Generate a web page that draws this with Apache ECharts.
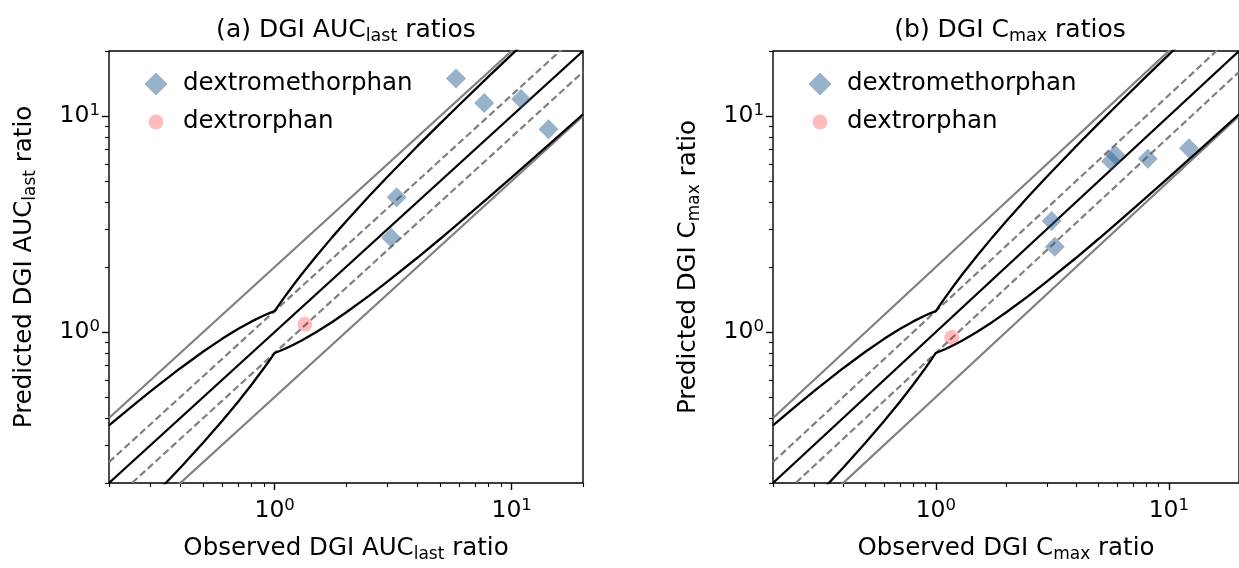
<!DOCTYPE html>
<html>
<head>
<meta charset="utf-8">
<script src="https://cdn.jsdelivr.net/npm/echarts@6/dist/echarts.min.js"></script>
<style>
html,body{margin:0;padding:0;background:#ffffff;}
#chart{width:1239px;height:568px;}
</style>
</head>
<body>
<div id="chart"></div>
<script>
// ---------------- data ----------------
const axisMin = 0.2;
const axisMax = 20;
const majorTicks = [1, 10];
const minorTicks = [0.2, 0.3, 0.4, 0.5, 0.6, 0.7, 0.8, 0.9, 2, 3, 4, 5, 6, 7, 8, 9, 20];

// (a) AUClast ratios
const dmAucObs  = [5.82, 7.66, 10.96, 14.3, 3.27, 3.10];
const dmAucPred = [14.9, 11.5, 12.0, 8.68, 4.21, 2.73];
const dxAucObs  = [1.34];
const dxAucPred = [1.086];

// (b) Cmax ratios
const dmCmaxObs  = [5.88, 5.65, 8.12, 12.2, 3.14, 3.24];
const dmCmaxPred = [6.61, 6.17, 6.34, 7.09, 3.27, 2.48];
const dxCmaxObs  = [1.17];
const dxCmaxPred = [0.944];

// reference lines (unity, 1.25/0.8 and 2/0.5 fold)
const refX     = [0.2, 20];
const unityY   = [0.2, 20];
const up125Y   = [0.25, 25];
const lo080Y   = [0.16, 16];
const up2Y     = [0.4, 40];
const lo05Y    = [0.1, 10];

// Guest et al. limits
const guestX     = [0.2, 0.25, 0.3, 0.4, 0.5, 0.6, 0.7, 0.8, 0.9, 0.95, 1, 1.05, 1.1, 1.2, 1.3, 1.5, 1.75, 2, 2.5, 3, 4, 5, 6, 8, 10, 12, 15, 20];
const guestUpper = [0.37, 0.4531, 0.5325, 0.68, 0.8125, 0.93, 1.0325, 1.12, 1.1925, 1.2231, 1.25, 1.35, 1.45, 1.65, 1.85, 2.25, 2.75, 3.25, 4.25, 5.25, 7.25, 9.25, 11.25, 15.25, 19.25, 23.25, 29.25, 39.25];
const guestLower = [0.1081, 0.1379, 0.1690, 0.2353, 0.3077, 0.3871, 0.4746, 0.5714, 0.6792, 0.7379, 0.8, 0.8167, 0.8345, 0.8727, 0.9135, 1.0, 1.1136, 1.2308, 1.4706, 1.7143, 2.2069, 2.7027, 3.2, 4.1967, 5.1948, 6.1935, 7.6923, 10.1911];

const seriesNames = ['dextromethorphan', 'dextrorphan'];
const titleA  = ['(a) DGI AUC', 'last', ' ratios'];
const titleB  = ['(b) DGI C', 'max', ' ratios'];
const xLabelA = ['Observed DGI AUC', 'last', ' ratio'];
const xLabelB = ['Observed DGI C', 'max', ' ratio'];
const yLabelA = ['Predicted DGI AUC', 'last', ' ratio'];
const yLabelB = ['Predicted DGI C', 'max', ' ratio'];

// ---------------- styling ----------------
const FONT = 'DejaVu Sans';
const DM_COLOR = 'rgba(40,95,142,0.6)';
const DX_COLOR = 'rgba(255,0,0,0.33)';
const GRAY = '#808080';

const grids = [
  {left: 109, top: 51, width: 474, height: 439},
  {left: 773, top: 51, width: 474, height: 439}
];

const panels = [
  {title: titleA, xl: xLabelA, yl: yLabelA, dm: [dmAucObs, dmAucPred], dx: [dxAucObs, dxAucPred]},
  {title: titleB, xl: xLabelB, yl: yLabelB, dm: [dmCmaxObs, dmCmaxPred], dx: [dxCmaxObs, dxCmaxPred]}
];

const pairs = (xs, ys) => xs.map((x, i) => [x, ys[i]]);
const richStr = parts => '{m|' + parts[0] + '}{s|' + parts[1] + '}{m|' + parts[2] + '}';

function subRich(size, sub) {
  return {
    m: {fontFamily: FONT, fontSize: size, fontWeight: 'normal', lineHeight: Math.round(size * 1.18), color: '#000', verticalAlign: 'middle'},
    s: {fontFamily: FONT, fontSize: sub, fontWeight: 'normal', lineHeight: sub, color: '#000', verticalAlign: 'bottom'}
  };
}
const tickRich = {
  m: {fontFamily: FONT, fontSize: 23.5, lineHeight: 27, color: '#000', verticalAlign: 'middle'},
  p: {fontFamily: FONT, fontSize: 16.5, lineHeight: 16, color: '#000', verticalAlign: 'top'}
};
const tickFmt = v => '{m|10}{p|' + Math.round(v) + '}';

const LMIN = Math.log10(axisMin);
const LMAX = Math.log10(axisMax);

function overlayAxis(p, pos, vals, len, width, labels, nameParts, nameGap, isY) {
  const ax = {
    type: 'value', gridIndex: p, position: pos, min: LMIN, max: LMAX,
    axisLine: {show: false, onZero: false}, splitLine: {show: false},
    axisTick: {show: true, inside: false, length: len, lineStyle: {color: '#000', width: width},
               customValues: vals.map(v => Math.log10(v))},
    axisLabel: labels ? {show: true, margin: isY ? 9 : 14, customValues: vals.map(v => Math.log10(v)),
                         formatter: tickFmt, rich: tickRich} : {show: false}
  };
  if (nameParts) {
    ax.name = richStr(nameParts);
    ax.nameLocation = 'middle';
    ax.nameGap = nameGap;
    if (isY) ax.nameRotate = 90;
    ax.nameTextStyle = {rich: subRich(24.5, 17)};
  }
  return ax;
}

const xAxes = [], yAxes = [], series = [], titles = [], legends = [];

panels.forEach((pn, p) => {
  const g = grids[p];
  xAxes.push({type: 'log', logBase: 10, gridIndex: p, min: axisMin, max: axisMax, show: false, position: 'bottom', axisLine: {onZero: false}});
  xAxes.push(overlayAxis(p, 'bottom', majorTicks, 7, 1.4, true, pn.xl, 51, false));
  xAxes.push(overlayAxis(p, 'bottom', minorTicks, 4, 1.1, false, null, 0, false));
  yAxes.push({type: 'log', logBase: 10, gridIndex: p, min: axisMin, max: axisMax, show: false, position: 'left', axisLine: {onZero: false}});
  yAxes.push(overlayAxis(p, 'left', majorTicks, 7, 1.4, true, pn.yl, 70, true));
  yAxes.push(overlayAxis(p, 'left', minorTicks, 4, 1.1, false, null, 0, true));

  const xi = p * 3, yi = p * 3;
  const line = (ys, xs, color, type, w) => ({
    type: 'line', xAxisIndex: xi, yAxisIndex: yi, data: pairs(xs, ys), symbol: 'none',
    silent: true, clip: true, lineStyle: {color: color, width: w, type: type}, z: 2
  });
  series.push(line(up2Y, refX, GRAY, 'solid', 2.2));
  series.push(line(lo05Y, refX, GRAY, 'solid', 2.2));
  series.push(line(up125Y, refX, GRAY, [7, 3.5], 2.2));
  series.push(line(lo080Y, refX, GRAY, [7, 3.5], 2.2));
  series.push(line(unityY, refX, '#000', 'solid', 2.3));
  series.push(line(guestUpper, guestX, '#000', 'solid', 2.3));
  series.push(line(guestLower, guestX, '#000', 'solid', 2.3));
  series.push({
    type: 'scatter', name: seriesNames[0], xAxisIndex: xi, yAxisIndex: yi, clip: true,
    data: pairs(pn.dm[0], pn.dm[1]), symbol: 'diamond', symbolSize: 20,
    itemStyle: {color: DM_COLOR}, z: 3
  });
  series.push({
    type: 'scatter', name: seriesNames[1], xAxisIndex: xi, yAxisIndex: yi, clip: true,
    data: pairs(pn.dx[0], pn.dx[1]), symbol: 'circle', symbolSize: 15,
    itemStyle: {color: DX_COLOR}, z: 3
  });

  titles.push({
    text: richStr(pn.title), left: g.left + g.width / 2, top: 15, textAlign: 'center', padding: 0,
    textStyle: {fontWeight: 'normal', rich: subRich(25, 17.5)}
  });

  const iconCx = g.left + 47;   // icon centre
  const textX = g.left + 74;    // text start
  legends.push({
    data: [seriesNames[0]], left: iconCx - 11.5, top: 71, padding: 0, itemWidth: 23, itemHeight: 23,
    selectedMode: false,
    textStyle: {fontFamily: FONT, fontSize: 24.5, color: '#000', lineHeight: 26,
                padding: [0, 0, 0, textX - (iconCx + 11.5) - 5]}
  });
  legends.push({
    data: [seriesNames[1]], left: iconCx - 7.5, top: 109, padding: 0, itemWidth: 15, itemHeight: 15,
    selectedMode: false,
    textStyle: {fontFamily: FONT, fontSize: 24.5, color: '#000', lineHeight: 26,
                padding: [0, 0, 0, textX - (iconCx + 7.5) - 5]}
  });
});

const chart = echarts.init(document.getElementById('chart'), null, {renderer: 'canvas'});
chart.setOption({
  backgroundColor: '#ffffff',
  animation: false,
  textStyle: {fontFamily: FONT},
  title: titles,
  legend: legends,
  grid: grids.map(g => Object.assign({show: true, borderColor: '#000', borderWidth: 1.4, backgroundColor: 'transparent'}, g)),
  xAxis: xAxes,
  yAxis: yAxes,
  series: series
});
</script>
</body>
</html>
